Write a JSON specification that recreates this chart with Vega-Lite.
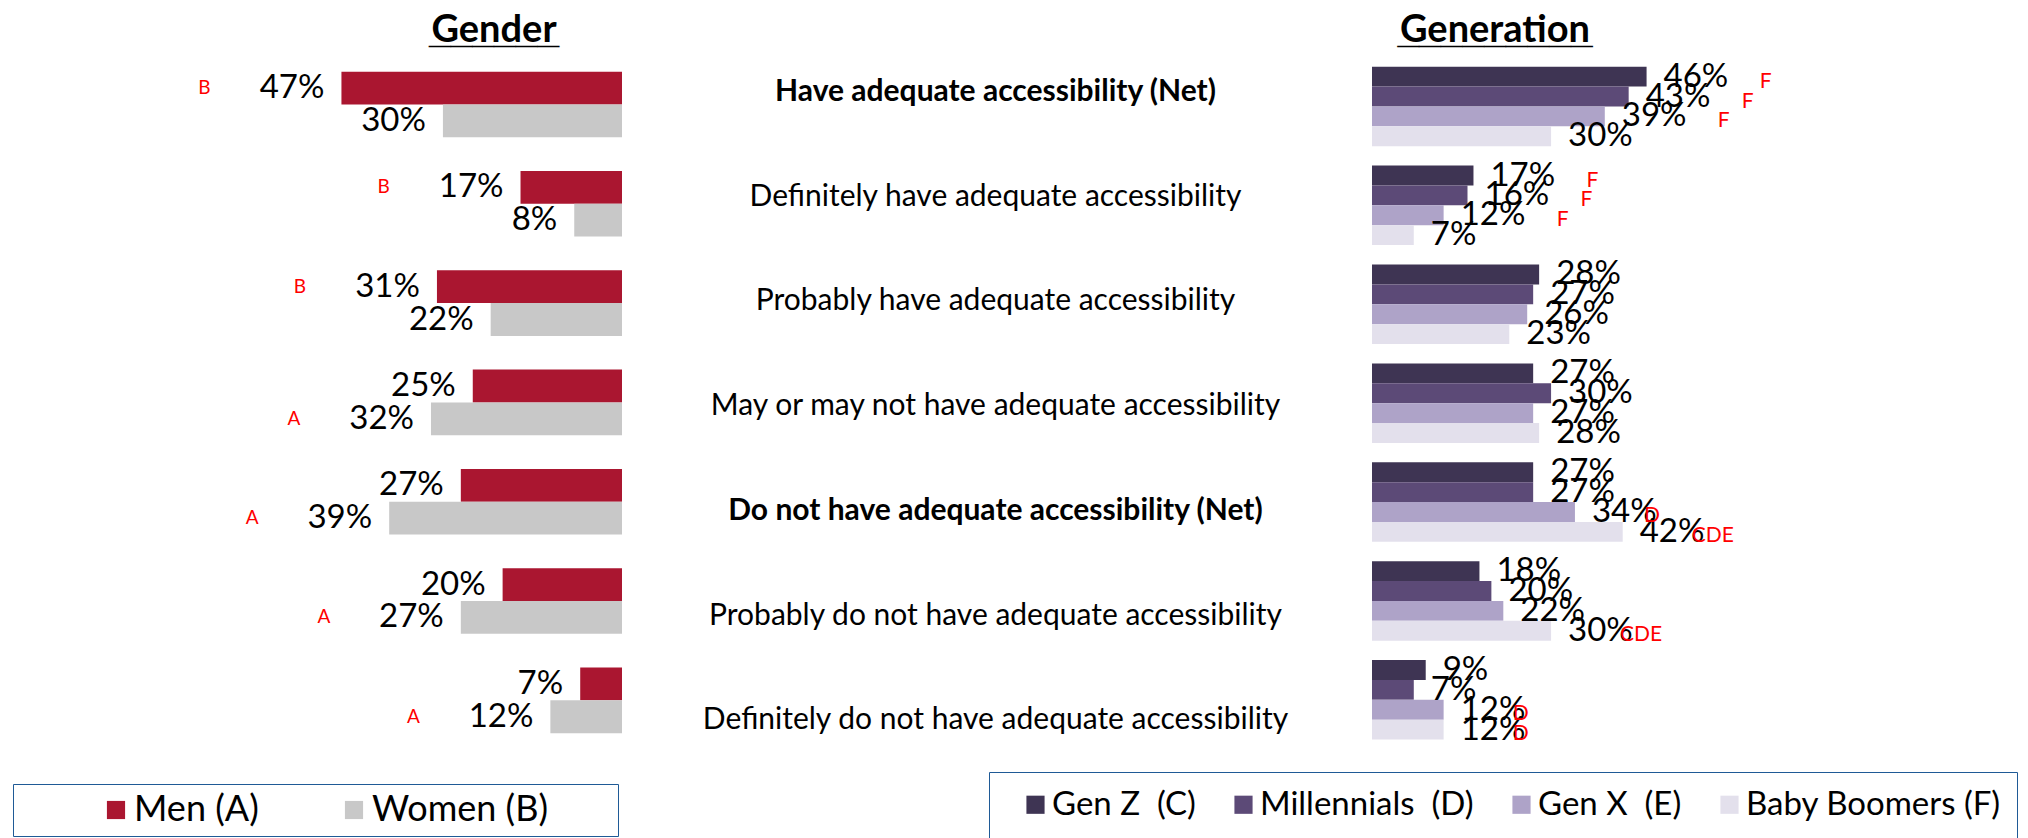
{
  "$schema": "https://vega.github.io/schema/vega-lite/v6.json",
  "padding": 0,
  "bounds": "flush",
  "spacing": 0,
  "config": {"view": {"stroke": null}, "font": "Lato", "text": {"color": "#000000"}},
  "datasets": {
    "cats": [
      {"item": "Have adequate accessibility (Net)", "net": true},
      {"item": "Definitely have adequate accessibility", "net": false},
      {"item": "Probably have adequate accessibility", "net": false},
      {"item": "May or may not have adequate accessibility", "net": false},
      {"item": "Do not have adequate accessibility (Net)", "net": true},
      {"item": "Probably do not have adequate accessibility", "net": false},
      {"item": "Definitely do not have adequate accessibility", "net": false}
    ],
    "gender": [
      {"item": "Have adequate accessibility (Net)", "gender": "Men (A)", "value": 0.47, "sig": "B"},
      {"item": "Have adequate accessibility (Net)", "gender": "Women (B)", "value": 0.30, "sig": ""},
      {"item": "Definitely have adequate accessibility", "gender": "Men (A)", "value": 0.17, "sig": "B"},
      {"item": "Definitely have adequate accessibility", "gender": "Women (B)", "value": 0.08, "sig": ""},
      {"item": "Probably have adequate accessibility", "gender": "Men (A)", "value": 0.31, "sig": "B"},
      {"item": "Probably have adequate accessibility", "gender": "Women (B)", "value": 0.22, "sig": ""},
      {"item": "May or may not have adequate accessibility", "gender": "Men (A)", "value": 0.25, "sig": ""},
      {"item": "May or may not have adequate accessibility", "gender": "Women (B)", "value": 0.32, "sig": "A"},
      {"item": "Do not have adequate accessibility (Net)", "gender": "Men (A)", "value": 0.27, "sig": ""},
      {"item": "Do not have adequate accessibility (Net)", "gender": "Women (B)", "value": 0.39, "sig": "A"},
      {"item": "Probably do not have adequate accessibility", "gender": "Men (A)", "value": 0.20, "sig": ""},
      {"item": "Probably do not have adequate accessibility", "gender": "Women (B)", "value": 0.27, "sig": "A"},
      {"item": "Definitely do not have adequate accessibility", "gender": "Men (A)", "value": 0.07, "sig": ""},
      {"item": "Definitely do not have adequate accessibility", "gender": "Women (B)", "value": 0.12, "sig": "A"}
    ],
    "generation": [
      {"item": "Have adequate accessibility (Net)", "gen": "Gen Z (C)", "value": 0.46, "sig": "F"},
      {"item": "Have adequate accessibility (Net)", "gen": "Millennials (D)", "value": 0.43, "sig": "F"},
      {"item": "Have adequate accessibility (Net)", "gen": "Gen X (E)", "value": 0.39, "sig": "F"},
      {"item": "Have adequate accessibility (Net)", "gen": "Baby Boomers (F)", "value": 0.30, "sig": ""},
      {"item": "Definitely have adequate accessibility", "gen": "Gen Z (C)", "value": 0.17, "sig": "F"},
      {"item": "Definitely have adequate accessibility", "gen": "Millennials (D)", "value": 0.16, "sig": "F"},
      {"item": "Definitely have adequate accessibility", "gen": "Gen X (E)", "value": 0.12, "sig": "F"},
      {"item": "Definitely have adequate accessibility", "gen": "Baby Boomers (F)", "value": 0.07, "sig": ""},
      {"item": "Probably have adequate accessibility", "gen": "Gen Z (C)", "value": 0.28, "sig": ""},
      {"item": "Probably have adequate accessibility", "gen": "Millennials (D)", "value": 0.27, "sig": ""},
      {"item": "Probably have adequate accessibility", "gen": "Gen X (E)", "value": 0.26, "sig": ""},
      {"item": "Probably have adequate accessibility", "gen": "Baby Boomers (F)", "value": 0.23, "sig": ""},
      {"item": "May or may not have adequate accessibility", "gen": "Gen Z (C)", "value": 0.27, "sig": ""},
      {"item": "May or may not have adequate accessibility", "gen": "Millennials (D)", "value": 0.30, "sig": ""},
      {"item": "May or may not have adequate accessibility", "gen": "Gen X (E)", "value": 0.27, "sig": ""},
      {"item": "May or may not have adequate accessibility", "gen": "Baby Boomers (F)", "value": 0.28, "sig": ""},
      {"item": "Do not have adequate accessibility (Net)", "gen": "Gen Z (C)", "value": 0.27, "sig": ""},
      {"item": "Do not have adequate accessibility (Net)", "gen": "Millennials (D)", "value": 0.27, "sig": ""},
      {"item": "Do not have adequate accessibility (Net)", "gen": "Gen X (E)", "value": 0.34, "sig": "D"},
      {"item": "Do not have adequate accessibility (Net)", "gen": "Baby Boomers (F)", "value": 0.42, "sig": "CDE"},
      {"item": "Probably do not have adequate accessibility", "gen": "Gen Z (C)", "value": 0.18, "sig": ""},
      {"item": "Probably do not have adequate accessibility", "gen": "Millennials (D)", "value": 0.20, "sig": ""},
      {"item": "Probably do not have adequate accessibility", "gen": "Gen X (E)", "value": 0.22, "sig": ""},
      {"item": "Probably do not have adequate accessibility", "gen": "Baby Boomers (F)", "value": 0.30, "sig": "CDE"},
      {"item": "Definitely do not have adequate accessibility", "gen": "Gen Z (C)", "value": 0.09, "sig": ""},
      {"item": "Definitely do not have adequate accessibility", "gen": "Millennials (D)", "value": 0.07, "sig": ""},
      {"item": "Definitely do not have adequate accessibility", "gen": "Gen X (E)", "value": 0.12, "sig": "D"},
      {"item": "Definitely do not have adequate accessibility", "gen": "Baby Boomers (F)", "value": 0.12, "sig": "D"}
    ]
  },
  "resolve": {
    "scale": {"x": "independent", "y": "independent", "yOffset": "independent", "color": "independent"},
    "legend": {"color": "independent"}
  },
  "hconcat": [
    {
      "width": 622,
      "height": 838,
      "title": {
        "text": "Gender",
        "subtitle": "______",
        "font": "Lato",
        "fontSize": 38,
        "fontWeight": "bold",
        "color": "#000000",
        "subtitleFont": "Liberation Sans",
        "subtitleFontSize": 39,
        "subtitleFontWeight": "bold",
        "subtitleColor": "#000000",
        "subtitlePadding": -38,
        "frame": "group",
        "anchor": "middle",
        "dx": 183,
        "offset": -51
      },
      "data": {"name": "gender"},
      "encoding": {
        "y": {
          "field": "item", "type": "nominal", "axis": null,
          "scale": {
            "domain": ["Have adequate accessibility (Net)", "Definitely have adequate accessibility", "Probably have adequate accessibility", "May or may not have adequate accessibility", "Do not have adequate accessibility (Net)", "Probably do not have adequate accessibility", "Definitely do not have adequate accessibility"],
            "paddingInner": 0.339, "paddingOuter": 0.889, "align": 0.406
          }
        },
        "yOffset": {
          "field": "gender", "type": "nominal",
          "scale": {"domain": ["Men (A)", "Women (B)"], "paddingInner": 0, "paddingOuter": 0}
        },
        "x": {
          "field": "value", "type": "quantitative", "axis": null,
          "scale": {"domain": [0, 1.042], "reverse": true, "nice": false, "zero": true}
        }
      },
      "layer": [
        {
          "mark": {"type": "bar"},
          "encoding": {
            "color": {
              "field": "gender", "type": "nominal",
              "scale": {"domain": ["Men (A)", "Women (B)"], "range": ["#AA1630", "#C8C8C8"]},
              "legend": {
                "orient": "none", "legendX": 13, "legendY": 784, "direction": "horizontal",
                "title": " ", "titleOrient": "left", "titleFontSize": 1, "titlePadding": 77,
                "padding": 8, "strokeColor": "#1F5A96", "fillColor": "#FFFFFF",
                "symbolType": "square", "symbolSize": 330, "symbolStrokeWidth": 0, "symbolOpacity": 1,
                "labelFontSize": 36, "labelFont": "Lato", "labelColor": "#000000", "labelOffset": 0,
                "columnPadding": 77, "labelLimit": 500,
                "labelExpr": "datum.label == 'Women (B)' ? datum.label + '\u00a0\u2800\u2800' : datum.label"
              }
            }
          }
        },
        {
          "mark": {"type": "text", "align": "right", "baseline": "middle", "dx": -17, "fontSize": 33},
          "encoding": {"text": {"field": "value", "type": "quantitative", "format": ".0%"}}
        },
        {
          "mark": {"type": "text", "align": "center", "baseline": "middle", "dx": -137, "fontSize": 19, "color": "#FF0000"},
          "encoding": {"text": {"field": "sig", "type": "nominal"}}
        }
      ]
    },
    {
      "width": 750,
      "height": 838,
      "data": {"name": "cats"},
      "encoding": {
        "y": {
          "field": "item", "type": "nominal", "axis": null,
          "scale": {
            "type": "point",
            "domain": ["Have adequate accessibility (Net)", "Definitely have adequate accessibility", "Probably have adequate accessibility", "May or may not have adequate accessibility", "Do not have adequate accessibility (Net)", "Probably do not have adequate accessibility", "Definitely do not have adequate accessibility"],
            "padding": 1.0614, "align": 0.438
          }
        },
        "text": {"field": "item", "type": "nominal"}
      },
      "layer": [
        {
          "transform": [{"filter": "datum.net"}],
          "mark": {"type": "text", "fontSize": 30, "fontWeight": "bold", "baseline": "middle", "dx": -1.5}
        },
        {
          "transform": [{"filter": "!datum.net"}],
          "mark": {"type": "text", "fontSize": 30, "baseline": "middle", "dx": -1.5}
        }
      ]
    },
    {
      "width": 656,
      "height": 838,
      "title": {
        "text": "Generation",
        "subtitle": "_________",
        "font": "Lato",
        "fontSize": 38,
        "fontWeight": "bold",
        "color": "#000000",
        "subtitleFont": "Liberation Sans",
        "subtitleFontSize": 39,
        "subtitleFontWeight": "bold",
        "subtitleColor": "#000000",
        "subtitlePadding": -38,
        "frame": "group",
        "anchor": "middle",
        "dx": -205,
        "offset": -51
      },
      "data": {"name": "generation"},
      "encoding": {
        "y": {
          "field": "item", "type": "nominal", "axis": null,
          "scale": {
            "domain": ["Have adequate accessibility (Net)", "Definitely have adequate accessibility", "Probably have adequate accessibility", "May or may not have adequate accessibility", "Do not have adequate accessibility (Net)", "Probably do not have adequate accessibility", "Definitely do not have adequate accessibility"],
            "paddingInner": 0.196, "paddingOuter": 0.835, "align": 0.404
          }
        },
        "yOffset": {
          "field": "gen", "type": "nominal",
          "scale": {"domain": ["Gen Z (C)", "Millennials (D)", "Gen X (E)", "Baby Boomers (F)"], "paddingInner": 0, "paddingOuter": 0}
        },
        "x": {
          "field": "value", "type": "quantitative", "axis": null,
          "scale": {"domain": [0, 1.099], "nice": false, "zero": true}
        }
      },
      "layer": [
        {
          "mark": {"type": "bar"},
          "encoding": {
            "color": {
              "field": "gen", "type": "nominal",
              "scale": {"domain": ["Gen Z (C)", "Millennials (D)", "Gen X (E)", "Baby Boomers (F)"], "range": ["#3E3453", "#5C4A77", "#AEA3C8", "#E3E0EC"]},
              "legend": {
                "orient": "none", "legendX": -383, "legendY": 772, "direction": "horizontal",
                "title": " ", "titleOrient": "left", "titleFontSize": 1, "titlePadding": 14,
                "padding": 16, "strokeColor": "#1F5A96", "fillColor": "#FFFFFF",
                "symbolType": "square", "symbolSize": 330, "symbolStrokeWidth": 0, "symbolOpacity": 1,
                "labelFontSize": 33, "labelFont": "Lato", "labelColor": "#000000", "labelOffset": 0,
                "columnPadding": 31, "labelLimit": 500,
                "labelExpr": "datum.label == 'Baby Boomers (F)' ? datum.label : replace(datum.label, ' (', '\u00a0 (')"
              }
            }
          }
        },
        {
          "mark": {"type": "text", "align": "left", "baseline": "middle", "dx": 17, "fontSize": 33},
          "encoding": {"text": {"field": "value", "type": "quantitative", "format": ".0%"}}
        },
        {
          "transform": [{"filter": "datum.sig == 'F'"}],
          "mark": {"type": "text", "align": "center", "baseline": "middle", "dx": 119, "dy": 5, "fontSize": 21, "color": "#FF0000"},
          "encoding": {"text": {"field": "sig", "type": "nominal"}}
        },
        {
          "transform": [{"filter": "datum.sig != 'F' && datum.sig != ''"}],
          "mark": {"type": "text", "align": "left", "baseline": "middle", "dx": 69, "dy": 4, "fontSize": 21, "color": "#FF0000"},
          "encoding": {"text": {"field": "sig", "type": "nominal"}}
        }
      ]
    }
  ]
}
